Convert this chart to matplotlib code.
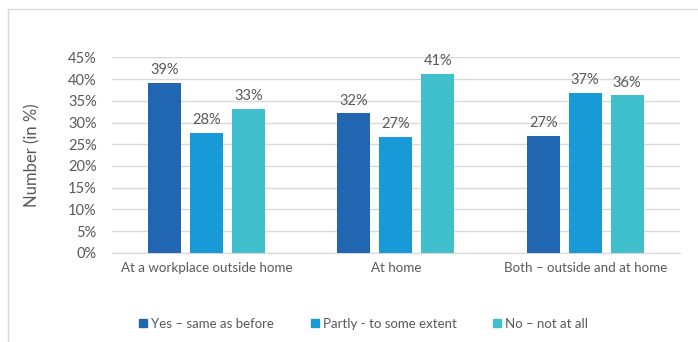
import numpy as np
import matplotlib.pyplot as plt
from matplotlib.lines import Line2D

plt.rcParams['font.family'] = ['Lato', 'DejaVu Sans']

# Dados
locais = ['At a workplace outside home', 'At home', 'Both – outside and at home']
respostas = ['Yes – same as before', 'Partly - to some extent', 'No – not at all']
sim = [39.2, 32.1, 26.9]
parcial = [27.6, 26.7, 36.8]
nao = [33.2, 41.2, 36.3]
yticks = [0, 5, 10, 15, 20, 25, 30, 35, 40, 45]

cores = ['#2166B0', '#179AD7', '#40BFCC']
texto = '#595959'

fig = plt.figure(figsize=(6.98, 3.42), dpi=100)
ax = fig.add_axes([0.1605, 0.261, 0.8135, 0.571])

x = np.arange(len(locais))
largura = 0.174
passo = 0.222
series = [sim, parcial, nao]
for i, (valores, cor) in enumerate(zip(series, cores)):
    pos = x + (i - 1) * passo
    ax.bar(pos, valores, width=largura, color=cor, label=respostas[i], zorder=3)
    for px, v in zip(pos, valores):
        ax.text(px, v + 1.3, f'{v:.0f}%', ha='center', va='bottom',
                fontsize=10.5, color=texto)

ax.set_xlim(-0.5, 2.5)
ax.set_ylim(0, 45)
ax.set_yticks(yticks)
ax.set_yticklabels([f'{t}%' for t in yticks])
ax.set_xticks(x)
ax.set_xticklabels(locais)
ax.tick_params(axis='y', length=0, labelsize=10.5, colors=texto, pad=11)
ax.tick_params(axis='x', length=0, labelsize=9.6, colors=texto, pad=7)
ax.grid(axis='y', color='#D9D9D9', linewidth=1, zorder=0)
for lado in ['top', 'right', 'left']:
    ax.spines[lado].set_visible(False)
ax.spines['bottom'].set_color('#D9D9D9')
ax.set_ylabel('Number (in %)', fontsize=12, color=texto, labelpad=20)

# Legenda com quadrados
marcas = [Line2D([], [], marker='s', linestyle='', markersize=6, color=c) for c in cores]
fig.legend(marcas, respostas, loc='center', bbox_to_anchor=(0.519, 0.053),
           ncol=3, frameon=False, fontsize=9.5, labelcolor=texto,
           handletextpad=0.1, columnspacing=2.6, handlelength=1.0)

# Moldura cinza
fig.add_artist(Line2D([8 / 698, 8 / 698], [0, 1 - 9 / 342], color='#D9D9D9', lw=1))
fig.add_artist(Line2D([8 / 698, 1], [1 - 9 / 342, 1 - 9 / 342], color='#D9D9D9', lw=1))

fig.savefig('out.png', dpi=100, facecolor='white')
